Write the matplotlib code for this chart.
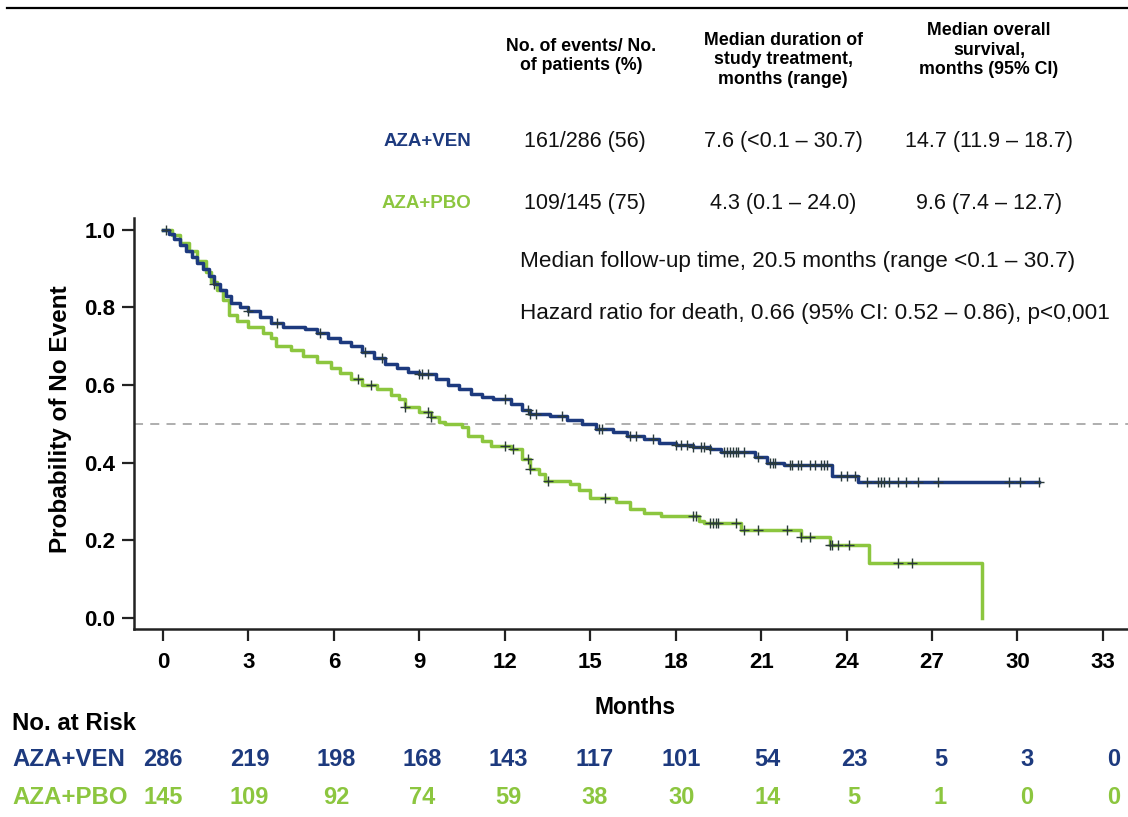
import numpy as np
import matplotlib
matplotlib.use("Agg")
import matplotlib.pyplot as plt
from matplotlib.transforms import blended_transform_factory
from matplotlib.lines import Line2D

plt.rcParams['font.family'] = ['Liberation Sans', 'DejaVu Sans']

# ---------------- data ----------------
ven_times = [0.0, 0.2, 0.4, 0.6, 0.8, 1.0, 1.2, 1.4, 1.6, 1.8, 2.0, 2.2, 2.4, 2.7, 3.0,
             3.4, 3.8, 4.2, 5.0, 5.4, 5.8, 6.2, 6.6, 7.0, 7.4, 7.8, 8.2, 8.6, 9.0, 9.6,
             10.0, 10.4, 10.8, 11.2, 11.6, 12.2, 12.6, 12.9, 13.6, 14.2, 14.7, 15.2,
             15.8, 16.3, 16.9, 17.4, 18.0, 18.6, 19.2, 19.6, 20.8, 21.2, 21.8, 23.5,
             24.4, 30.75]
ven_surv = [1.0, 0.99, 0.975, 0.96, 0.945, 0.93, 0.915, 0.90, 0.88, 0.86, 0.845, 0.83,
            0.81, 0.80, 0.79, 0.775, 0.76, 0.75, 0.745, 0.735, 0.72, 0.71, 0.70, 0.685,
            0.67, 0.655, 0.645, 0.633, 0.628, 0.615, 0.60, 0.59, 0.577, 0.57, 0.564,
            0.55, 0.535, 0.526, 0.52, 0.51, 0.50, 0.487, 0.48, 0.47, 0.46, 0.45, 0.445,
            0.441, 0.435, 0.428, 0.415, 0.40, 0.393, 0.367, 0.351, 0.351]

pbo_times = [0.0, 0.3, 0.6, 0.9, 1.2, 1.5, 1.7, 1.9, 2.1, 2.3, 2.6, 3.0, 3.5, 3.8, 3.95,
             4.5, 4.9, 5.4, 5.9, 6.2, 6.6, 7.0, 7.5, 8.0, 8.3, 8.5, 9.0, 9.4, 9.7, 9.9,
             10.5, 10.7, 11.2, 11.5, 12.2, 12.6, 12.9, 13.2, 13.4, 14.3, 14.6, 15.0,
             15.9, 16.4, 16.9, 17.5, 18.8, 19.0, 20.3, 22.4, 23.4, 24.8, 28.75]
pbo_surv = [1.0, 0.985, 0.965, 0.945, 0.92, 0.89, 0.865, 0.845, 0.82, 0.78, 0.765, 0.75,
            0.735, 0.72, 0.70, 0.69, 0.675, 0.66, 0.645, 0.63, 0.615, 0.60, 0.59, 0.575,
            0.565, 0.544, 0.53, 0.518, 0.505, 0.50, 0.492, 0.469, 0.455, 0.444, 0.436,
            0.41, 0.385, 0.37, 0.354, 0.346, 0.33, 0.308, 0.30, 0.282, 0.27, 0.262,
            0.249, 0.244, 0.226, 0.21, 0.187, 0.141, 0.0]

ven_censor = [0.1, 1.8, 3.0, 4.0, 5.5, 7.1, 7.7, 9.0, 9.1, 9.3, 12.0, 12.8, 12.9, 13.1,
              14.0, 15.3, 15.4, 16.4, 16.6, 17.2, 18.0, 18.2, 18.4, 18.6, 18.9, 19.0,
              19.2, 19.7, 19.8, 19.9, 20.0, 20.1, 20.2, 20.4, 20.9, 21.3, 21.4, 21.5,
              22.0, 22.1, 22.3, 22.4, 22.7, 22.9, 23.1, 23.2, 23.3, 23.8, 24.0, 24.3,
              24.7, 25.1, 25.2, 25.3, 25.5, 25.8, 26.1, 26.5, 27.2, 29.7, 30.1, 30.75]
pbo_censor = [6.85, 7.3, 8.5, 9.3, 9.4, 12.0, 12.3, 12.8, 12.9, 13.5, 15.5, 18.6, 18.7,
              19.2, 19.3, 19.4, 19.5, 20.1, 20.4, 20.9, 21.9, 22.4, 22.7, 23.4, 23.5,
              23.7, 24.1, 25.8, 26.3]

risk_times = [0, 3, 6, 9, 12, 15, 18, 21, 24, 27, 30, 33]
ven_risk = [286, 219, 198, 168, 143, 117, 101, 54, 23, 5, 3, 0]
pbo_risk = [145, 109, 92, 74, 59, 38, 30, 14, 5, 1, 0, 0]

arms = ["AZA+VEN", "AZA+PBO"]
col_headers = ["No. of events/ No.\nof patients (%)",
               "Median duration of\nstudy treatment,\nmonths (range)",
               "Median overall\nsurvival,\nmonths (95% CI)"]
ven_row = ["161/286 (56)", "7.6 (<0.1 \u2013 30.7)", "14.7 (11.9 \u2013 18.7)"]
pbo_row = ["109/145 (75)", "4.3 (0.1 \u2013 24.0)", "9.6 (7.4 \u2013 12.7)"]
notes = ["Median follow-up time, 20.5 months (range <0.1 \u2013 30.7)",
         "Hazard ratio for death, 0.66 (95% CI: 0.52 \u2013 0.86), p<0,001"]

BLUE = '#1d3a7e'
GREEN = '#8cc63f'

W, H = 1128, 817
fig = plt.figure(figsize=(W / 100, H / 100), dpi=100)

def fx(px):
    return px / W

def fy(py):
    return 1 - py / H

ax = fig.add_axes([fx(134), fy(629), fx(1128 - 134), (629 - 218) / H])
ax.set_xlim(-1.02, 33.88)
ax.set_ylim(-0.028, 1.03)

def surv_at(times, surv, t):
    i = np.searchsorted(np.asarray(times), t, side='right') - 1
    return np.asarray(surv)[np.clip(i, 0, len(surv) - 1)]

ax.axhline(0.5, color='#a8a8a8', lw=1.3, ls=(0, (5, 4)), zorder=1)

ax.step(pbo_times, pbo_surv, where='post', color=GREEN, lw=2.5, zorder=3)
ax.step(ven_times, ven_surv, where='post', color=BLUE, lw=2.5, zorder=4)
ax.plot(pbo_censor, surv_at(pbo_times, pbo_surv, pbo_censor), ls='none', marker='+',
        ms=7.5, mew=1.0, color='#2a3a3a', zorder=5)
ax.plot(ven_censor, surv_at(ven_times, ven_surv, ven_censor), ls='none', marker='+',
        ms=7.5, mew=1.0, color='#2a3a3a', zorder=5)

for s in ['top', 'right']:
    ax.spines[s].set_visible(False)
for s in ['left', 'bottom']:
    ax.spines[s].set_linewidth(1.8)
    ax.spines[s].set_color('#222222')

ax.set_xticks(risk_times)
ax.set_yticks([0.0, 0.2, 0.4, 0.6, 0.8, 1.0])
ax.set_yticklabels(['0.0', '0.2', '0.4', '0.6', '0.8', '1.0'])
ax.tick_params(axis='both', direction='out', length=8.5, width=1.6, color='#222222',
               labelsize=16)
ax.xaxis.set_tick_params(pad=8)
ax.yaxis.set_tick_params(pad=5)
for lab in ax.get_xticklabels() + ax.get_yticklabels():
    lab.set_fontweight('bold')

fig.text(fx(61), fy(419), 'Probability of No Event', rotation=90, ha='center',
         va='center', fontsize=17.5, fontweight='bold')

# x-axis title
fig.text(fx(635), fy(707), 'Months', ha='center', va='center', fontsize=16.5,
         fontweight='bold')

# top rule
fig.add_artist(Line2D([fx(7), 1.0], [fy(8), fy(8)], color='black', lw=1.6))

# table header
col_x = [581, 783, 989]
col_y = [56, 60, 50]
for x, y, t in zip(col_x, col_y, col_headers):
    fig.text(fx(x), fy(y), t, ha='center', va='center', fontsize=12.8,
             fontweight='bold', linespacing=1.2)

row_y = [142, 203]
row_colors = [BLUE, GREEN]
for arm, y, c, vals in zip(arms, row_y, row_colors, [ven_row, pbo_row]):
    fig.text(fx(471), fy(y), arm, ha='right', va='center', fontsize=13.5,
             fontweight='bold', color=c)
    for x, v in zip([585, 783, 989], vals):
        fig.text(fx(x), fy(y), v, ha='center', va='center', fontsize=15.5,
                 color='#111111')

for y, n in zip([262, 313], notes):
    fig.text(fx(520), fy(y), n, ha='left', va='center', fontsize=16.2,
             color='#111111')

# risk table
tr = blended_transform_factory(ax.transData, fig.transFigure)
fig.text(fx(12), fy(724), 'No. at Risk', ha='left', va='center', fontsize=17.3,
         fontweight='bold')
for arm, y, c, vals in zip(arms, [760, 798], row_colors, [ven_risk, pbo_risk]):
    fig.text(fx(12), fy(y), arm, ha='left', va='center', fontsize=17.3,
             fontweight='bold', color=c)
    for t, v in zip(risk_times, vals):
        ax.text(t + 0.011 * t, fy(y), str(v), transform=tr, ha='center',
                va='center', fontsize=17, fontweight='bold', color=c,
                clip_on=False)

fig.savefig('out.png', dpi=100)
